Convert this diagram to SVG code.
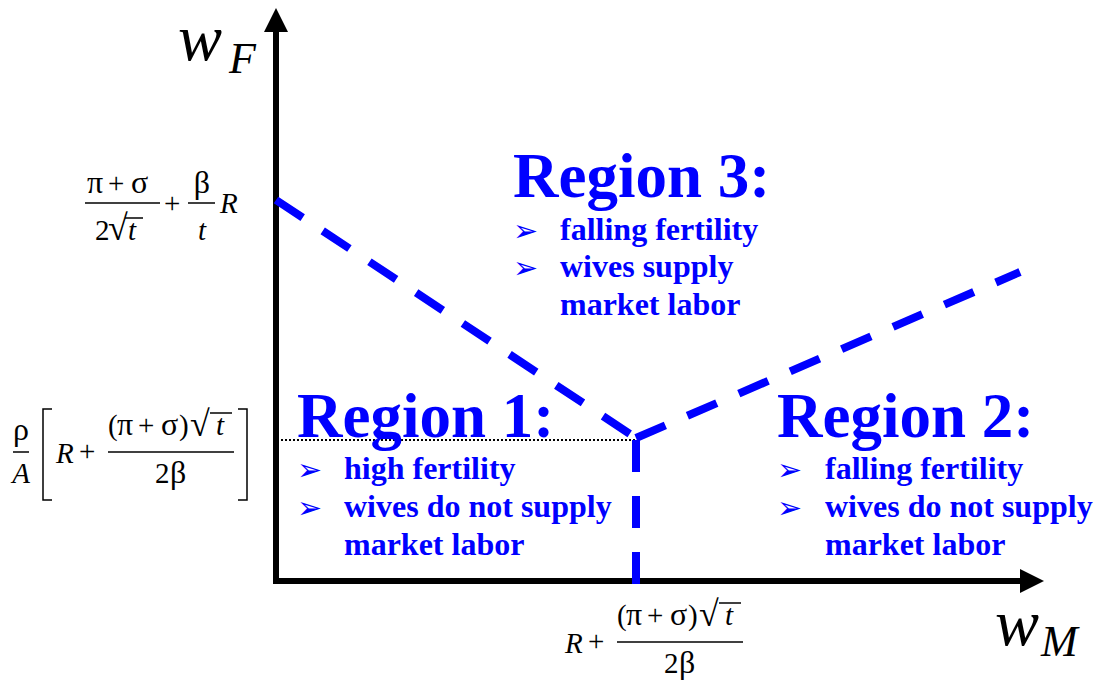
<svg xmlns="http://www.w3.org/2000/svg" width="1095" height="683" viewBox="0 0 1095 683">
<style>
.ax{stroke:#000;stroke-width:6;fill:none}
.dash{stroke:#0000FF;stroke-width:8;stroke-dasharray:32 24;fill:none}
.dot{stroke:#000;stroke-width:2;stroke-dasharray:2 2;fill:none}
.title{font-family:"Liberation Serif",serif;font-weight:bold;font-size:63px;fill:#0000FF}
.item{font-family:"Liberation Serif",serif;font-weight:bold;font-size:32px;fill:#0000FF}
.bul{font-family:"DejaVu Sans",sans-serif;font-size:30px;fill:#0000FF}
.m{font-family:"Liberation Serif",serif;font-size:29px;fill:#000}
.g{font-family:"Liberation Serif",serif;font-size:32px;fill:#000}
.rt{font-family:"Liberation Serif",serif;font-size:36px;fill:#000}
.it{font-style:italic}
.rule{stroke:#000;stroke-width:1.5;fill:none}
.axl{font-family:"Liberation Serif",serif;font-style:italic;fill:#000}
</style>
<defs>
<marker id="ah" viewBox="0 0 24 24" refX="0" refY="12" markerWidth="24" markerHeight="24" markerUnits="userSpaceOnUse" orient="auto">
<path d="M0,0 L24,12 L0,24 z" fill="#000"/>
</marker>
</defs>

<g id="axes">
<line class="ax" x1="276" y1="584" x2="276" y2="32" marker-end="url(#ah)"/>
<line class="ax" x1="273" y1="581" x2="1020" y2="581" marker-end="url(#ah)"/>
<text class="axl" x="178" y="60" font-size="66">w</text>
<text class="axl" x="229" y="73" font-size="44">F</text>
<text class="axl" x="995" y="645" font-size="66">w</text>
<text class="axl" x="1041" y="656" font-size="44">M</text>
</g>

<g id="connectors">
<line class="dot" x1="281" y1="440" x2="636" y2="440"/>
<line class="dash" x1="276" y1="200" x2="636" y2="438"/>
<line class="dash" x1="636" y1="438" x2="1020" y2="272"/>
<line class="dash" x1="636" y1="440" x2="636" y2="584"/>
</g>

<g id="region3">
<text class="title" x="513" y="197">Region 3:</text>
<text class="bul" x="513" y="241">➢</text>
<text class="bul" x="513" y="278">➢</text>
<text class="item" x="560" y="240">falling fertility</text>
<text class="item" x="560" y="277">wives supply</text>
<text class="item" x="560" y="315">market labor</text>
</g>

<g id="region1">
<text class="title" x="297" y="437">Region 1:</text>
<text class="bul" x="297" y="480">➢</text>
<text class="bul" x="297" y="518">➢</text>
<text class="item" x="344" y="479">high fertility</text>
<text class="item" x="344" y="517">wives do not supply</text>
<text class="item" x="344" y="555">market labor</text>
</g>

<g id="region2">
<text class="title" x="777" y="437">Region 2:</text>
<text class="bul" x="777" y="480">➢</text>
<text class="bul" x="777" y="518">➢</text>
<text class="item" x="825" y="479">falling fertility</text>
<text class="item" x="825" y="517">wives do not supply</text>
<text class="item" x="825" y="555">market labor</text>
</g>

<g id="label-top">
<text class="g" x="87" y="193">π</text>
<text class="m" x="108" y="193">+</text>
<text class="g" x="131" y="193">σ</text>
<line class="rule" x1="85" y1="203" x2="160" y2="203"/>
<text class="m" x="95" y="240">2</text>
<text class="rt" x="108" y="240">√</text>
<text class="m it" x="128" y="240">t</text>
<line class="rule" x1="125" y1="218" x2="143" y2="218"/>
<text class="m" x="164" y="213">+</text>
<text class="g" x="202" y="193" text-anchor="middle">β</text>
<line class="rule" x1="188" y1="203" x2="215" y2="203"/>
<text class="m it" x="202" y="240" text-anchor="middle">t</text>
<text class="m it" x="220" y="213">R</text>
</g>

<g id="label-left">
<text class="g" x="21" y="440" text-anchor="middle">ρ</text>
<line class="rule" x1="13" y1="452" x2="29" y2="452"/>
<text class="m it" x="21" y="483" text-anchor="middle">A</text>
<polyline class="rule" points="52,409 43,409 43,500 52,500"/>
<polyline class="rule" points="238,409 247,409 247,500 238,500"/>
<g transform="translate(108,452)">
<text class="m it" x="-52" y="11">R</text>
<text class="m" x="-29" y="9">+</text>
<text class="m" x="0" y="-17">(</text>
<text class="g" x="9" y="-17">π</text>
<text class="m" x="30" y="-17">+</text>
<text class="g" x="53" y="-17">σ</text>
<text class="m" x="71" y="-17">)</text>
<text class="rt" x="82" y="-16">√</text>
<text class="m it" x="108" y="-17">t</text>
<line class="rule" x1="102" y1="-39" x2="124" y2="-39"/>
<line class="rule" x1="0" y1="0" x2="126" y2="0"/>
<text class="m" x="47" y="31">2</text>
<text class="g" x="62" y="31">β</text>
</g>
</g>

<g id="label-bottom" transform="translate(617,642)">
<text class="m it" x="-52" y="11">R</text>
<text class="m" x="-29" y="9">+</text>
<text class="m" x="0" y="-17">(</text>
<text class="g" x="9" y="-17">π</text>
<text class="m" x="30" y="-17">+</text>
<text class="g" x="53" y="-17">σ</text>
<text class="m" x="71" y="-17">)</text>
<text class="rt" x="82" y="-16">√</text>
<text class="m it" x="108" y="-17">t</text>
<line class="rule" x1="102" y1="-39" x2="124" y2="-39"/>
<line class="rule" x1="0" y1="0" x2="126" y2="0"/>
<text class="m" x="47" y="31">2</text>
<text class="g" x="62" y="31">β</text>
</g>
</svg>
